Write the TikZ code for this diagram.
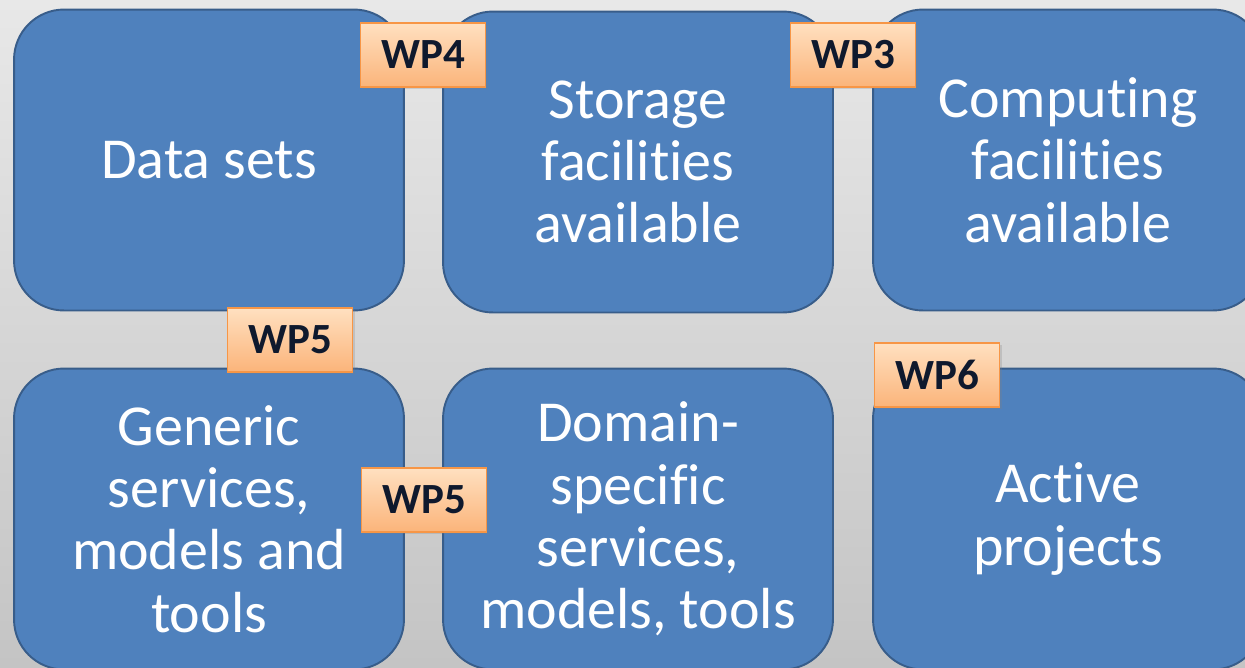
\documentclass[tikz,border=0pt]{standalone}
\usepackage{fontspec}
\setmainfont{Carlito}[Ligatures={NoCommon}]
\usepackage{tikz}
\usetikzlibrary{shadows}
\definecolor{boxblue}{RGB}{79,129,189}
\definecolor{boxedge}{RGB}{56,93,138}
\definecolor{wptop}{RGB}{255,224,192}
\definecolor{wpbottom}{RGB}{251,180,122}
\definecolor{wpedge}{RGB}{247,150,70}
\definecolor{wptext}{RGB}{15,25,45}
\definecolor{bgtop}{RGB}{232,232,232}
\definecolor{bgbottom}{RGB}{196,196,196}

\begin{document}
\begin{tikzpicture}[x=0.02cm,y=-0.02cm]
	\tikzstyle{every node}+=[inner sep=0pt]
	\tikzstyle{facility}=[draw=boxedge, line width=1.1pt, fill=boxblue, rounded corners=1cm, minimum width=7.8cm, minimum height=6.02cm, align=center, text=white, font=\fontsize{33}{35.5}\selectfont]
	\tikzstyle{wplabel}=[draw=wpedge, line width=0.8pt, top color=wptop, bottom color=wpbottom, minimum width=2.5cm, minimum height=1.28cm, text=wptext, font=\fontsize{24.5}{28}\selectfont\bfseries, drop shadow={shadow xshift=1.2pt, shadow yshift=-1.2pt, opacity=0.25}]
	\useasboundingbox (0,0) rectangle (1245,667);
	\clip (0,0) rectangle (1245,667);
	\shade [top color=bgtop, bottom color=bgbottom] (0,0) rectangle (1245,667);
	% top row
	\node [facility] (data) at (209,160) {Data sets};
	\node [facility] (storage) at (638,162) {Storage\\facilities\\available};
	\node [facility] (computing) at (1068,160) {Computing\\facilities\\available};
	% bottom row
	\node [facility] (generic) at (209,519) {Generic\\services,\\models and\\tools};
	\node [facility] (domain) at (638,519) {Domain-\\specific\\services,\\models, tools};
	\node [facility] (active) at (1068,519) {Active\\projects};
	% work packages
	\node [wplabel] (wp4) at (423,55) {WP4};
	\node [wplabel] (wp3) at (853,55) {WP3};
	\node [wplabel] (wp5a) at (290,340) {WP5};
	\node [wplabel] (wp5b) at (424,500) {WP5};
	\node [wplabel] (wp6) at (937,375) {WP6};
\end{tikzpicture}
\end{document}
